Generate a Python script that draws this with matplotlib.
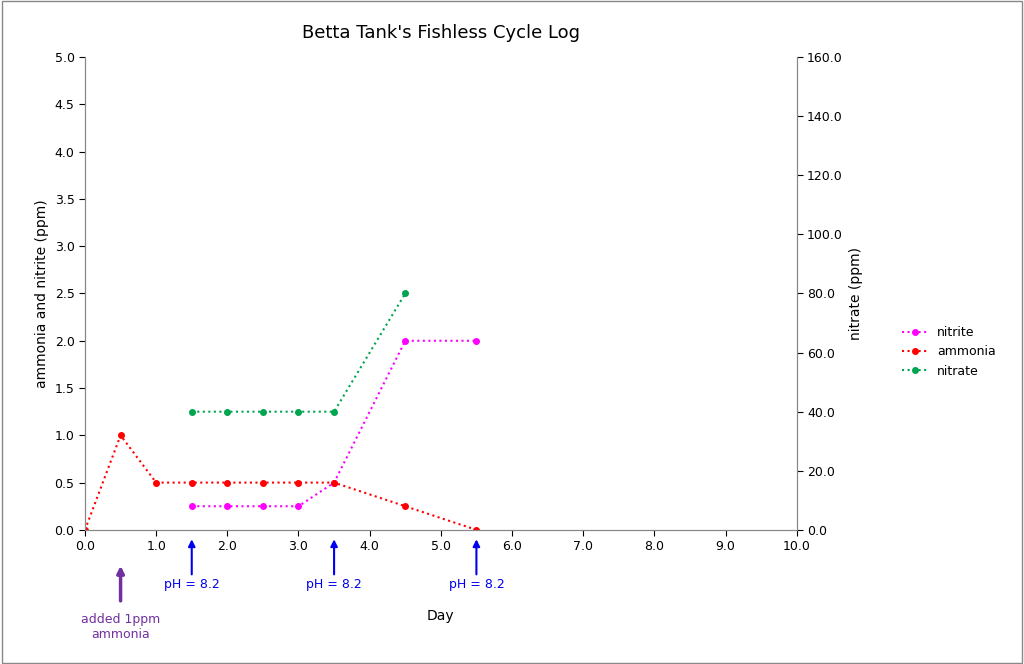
import matplotlib
matplotlib.use("Agg")
import matplotlib.pyplot as plt

amm_x = [0, 0.5, 1, 1.5, 2, 2.5, 3, 3.5, 4.5, 5.5]
amm_y = [0, 1.0, 0.5, 0.5, 0.5, 0.5, 0.5, 0.5, 0.25, 0]
nitrite_x = [1.5, 2, 2.5, 3, 3.5, 4.5, 5.5]
nitrite_y = [0.25, 0.25, 0.25, 0.25, 0.5, 2.0, 2.0]
nitrate_x = [1.5, 2, 2.5, 3, 3.5, 4.5]
nitrate_y = [40, 40, 40, 40, 40, 80]
ph_days = [1.5, 3.5, 5.5]
ph_label = "pH = 8.2"

plt.rcParams["font.family"] = "DejaVu Sans"
fig = plt.figure(figsize=(10.24, 6.64), dpi=100)
ax = fig.add_axes([0.083, 0.202, 0.695, 0.712])
ax2 = ax.twinx()

l1, = ax.plot(nitrite_x, nitrite_y, ':', color='#ff00ff', marker='o', ms=4, lw=1.5, label='nitrite')
l2, = ax.plot(amm_x, amm_y, ':', color='#ff0000', marker='o', ms=4, lw=1.5, label='ammonia')
l3, = ax2.plot(nitrate_x, nitrate_y, ':', color='#00a550', marker='o', ms=4, lw=1.5, label='nitrate')

ax.set_xlim(0, 10); ax.set_ylim(0, 5); ax2.set_ylim(0, 160)
ax.set_xticks(range(11)); ax.set_xticklabels([f"{v:.1f}" for v in range(11)], fontsize=9)
ax.set_yticks([i*0.5 for i in range(11)]); ax.set_yticklabels([f"{i*0.5:.1f}" for i in range(11)], fontsize=9)
ax2.set_yticks(range(0, 161, 20)); ax2.set_yticklabels([f"{v:.1f}" for v in range(0, 161, 20)], fontsize=9)
for a in (ax, ax2):
    a.spines['top'].set_visible(False)
    for s in a.spines.values():
        s.set_color('#888888')
    a.tick_params(colors='black', length=4)
ax.set_ylabel("ammonia and nitrite (ppm)", fontsize=10)
ax2.set_ylabel("nitrate (ppm)", fontsize=10)
ax.set_xlabel("Day", fontsize=10, labelpad=40)
ax.set_title("Betta Tank's Fishless Cycle Log", fontsize=13, pad=14)

for d in ph_days:
    ax.annotate("", xy=(d, -0.07), xytext=(d, -0.5), xycoords='data', textcoords='data',
                arrowprops=dict(arrowstyle='-|>', color='#0000ee', lw=1.5), annotation_clip=False)
    ax.text(d, -0.58, ph_label, color='#0000ee', ha='center', va='center', fontsize=9, clip_on=False)
ax.annotate("", xy=(0.5, -0.35), xytext=(0.5, -0.78),
            arrowprops=dict(arrowstyle='-|>', color='#7030a0', lw=2.5), annotation_clip=False)
ax.text(0.5, -1.03, "added 1ppm\nammonia", color='#7030a0', ha='center', va='center', fontsize=9, clip_on=False)

fig.legend(handles=[l1, l2, l3], loc='center left', bbox_to_anchor=(0.87, 0.47), frameon=False, fontsize=9)
fig.patches.append(matplotlib.patches.Rectangle((0.002, 0.002), 0.996, 0.996, transform=fig.transFigure,
                                               fill=False, edgecolor='#888888', lw=1))
fig.savefig("out.png", dpi=100)
